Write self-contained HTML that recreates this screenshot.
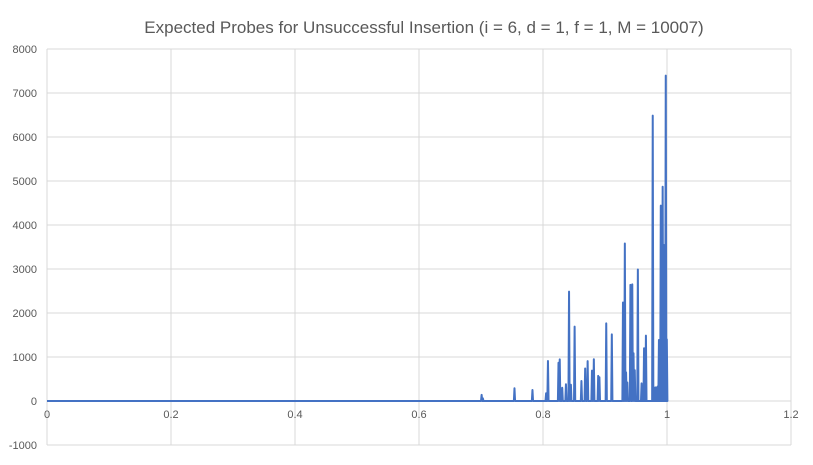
<!DOCTYPE html>
<html><head><meta charset="utf-8"><style>
body{margin:0;background:#fff;font-family:"Liberation Sans",Calibri,sans-serif}
</style></head><body>
<svg width="813" height="460" xmlns="http://www.w3.org/2000/svg">
<rect width="813" height="460" fill="#fff"/>
<text x="424" y="33" text-anchor="middle" font-size="17" fill="#595959">Expected Probes for Unsuccessful Insertion (i = 6, d = 1, f = 1, M = 10007)</text>
<g id="grid"></g><g id="ticks"></g><g id="series"></g>
</svg>
<script>
const xTicks=[0,0.2,0.4,0.6,0.8,1,1.2];
const yTicks=[-1000,0,1000,2000,3000,4000,5000,6000,7000,8000];
const spikeX=[0.701,0.703,0.754,0.783,0.805,0.808,0.825,0.827,0.831,0.837,0.842,0.845,0.851,0.862,0.868,0.872,0.879,0.882,0.889,0.891,0.902,0.911,0.929,0.932,0.934,0.936,0.941,0.944,0.946,0.948,0.953,0.959,0.963,0.966,0.977,0.979,0.982,0.985,0.987,0.990,0.993,0.995,0.998,0.9997];
const spikeY=[140,60,290,250,175,910,870,945,300,380,2485,370,1690,455,740,905,690,950,570,540,1765,1515,2240,3580,650,420,2640,2650,1085,700,2990,400,1200,1485,6485,310,310,330,1385,4440,4870,3545,7395,1400];
const NS="http://www.w3.org/2000/svg";
const X=v=>47+v/0.2*124;
const Y=v=>401-v/1000*44;
const grid=document.getElementById('grid'),ticks=document.getElementById('ticks'),ser=document.getElementById('series');
function mk(tag,attrs,parent){const e=document.createElementNS(NS,tag);for(const k in attrs)e.setAttribute(k,attrs[k]);parent.appendChild(e);return e;}
yTicks.forEach(v=>{
 const l=mk('line',{x1:X(0),x2:X(1.2),y1:Y(v),y2:Y(v),stroke:'#d9d9d9','stroke-width':1},grid);
 
 
 const t=mk('text',{x:37,y:Y(v)+4,'text-anchor':'end','font-size':11,fill:'#595959'},ticks);
 t.textContent=v;
 
 
});
xTicks.forEach(v=>{
 const l=mk('line',{x1:X(v),x2:X(v),y1:Y(8000),y2:Y(-1000),stroke:'#d9d9d9','stroke-width':1},grid);
 
 
 const t=mk('text',{x:X(v),y:Y(0)+17,'text-anchor':'middle','font-size':11,fill:'#595959'},ticks);
 t.textContent=v;
 
 
});
let pts=[[X(0),Y(0)]];
spikeX.forEach((x,i)=>{pts.push([X(x)-0.6,Y(0)],[X(x),Y(spikeY[i])],[X(x)+0.6,Y(0)]);});
pts.push([X(1),Y(0)]);
const p=mk('polyline',{points:pts.map(q=>q.join(',')).join(' '),fill:'none',stroke:'#4472c4','stroke-width':2,'stroke-linejoin':'round'},ser);


</script>
</body></html>
